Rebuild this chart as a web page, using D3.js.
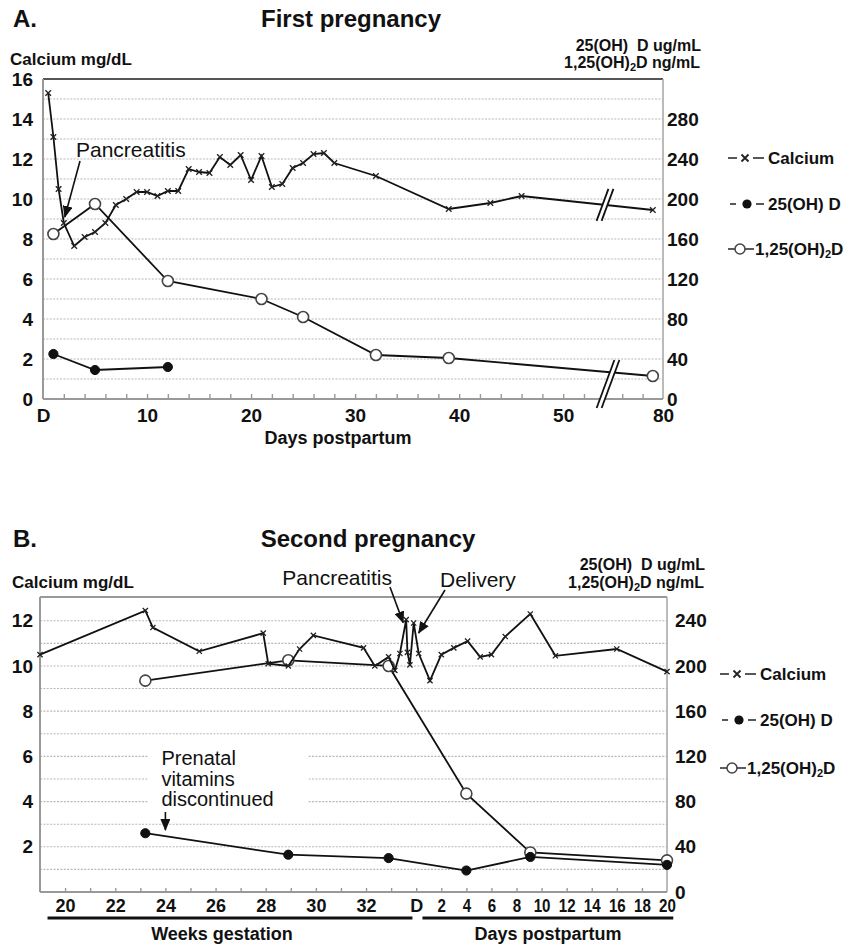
<!DOCTYPE html>
<html>
<head>
<meta charset="utf-8">
<script src="https://cdn.jsdelivr.net/npm/d3@7"></script>
<style>
  body { margin: 0; background: #fff; }
  svg text { font-family: "Liberation Sans", Arial, Helvetica, sans-serif; fill: #111; }
  .b { font-weight: bold; }
  .pre { white-space: pre; }
</style>
</head>
<body>
<svg id="chart" width="860" height="950"></svg>
<script>
// ---------- A. first pregnancy (x = days postpartum) ----------
var caDaysA = [0.5, 1, 1.5, 2, 3, 4, 5, 6, 7, 8, 9, 10, 11, 12, 13, 14, 15, 16, 17, 18, 19, 20, 21, 22, 23, 24, 25, 26, 27, 28, 32, 39, 43, 46, 79];
var caValsA = [15.3, 13.1, 10.5, 8.8, 7.65, 8.1, 8.35, 8.8, 9.7, 10.0, 10.35, 10.35, 10.15, 10.4, 10.4, 11.5, 11.35, 11.3, 12.1, 11.7, 12.2, 10.95, 12.15, 10.6, 10.75, 11.55, 11.8, 12.25, 12.3, 11.8, 11.15, 9.5, 9.8, 10.15, 9.45];
var d125DaysA = [1, 5, 12, 21, 25, 32, 39, 79];
var d125ValsA = [165, 195, 118, 100, 82, 44, 41, 23];
var d25DaysA = [1, 5, 12];
var d25ValsA = [45, 29, 32];
var xTicksA = [0, 10, 20, 30, 40, 50, 80];
var xLabelsA = ["D", "10", "20", "30", "40", "50", "80"];
var minorTicksA = d3.range(2, 53, 2).concat([76, 78]);
var leftTicksA = [0, 2, 4, 6, 8, 10, 12, 14, 16];
var rightTicksA = [0, 40, 80, 120, 160, 200, 240, 280];

// ---------- B. second pregnancy (weeks gestation, then days postpartum) ----------
var caWeeksB = [19, 23.2, 23.5, 25.35, 27.9, 28.1, 28.9, 29.35, 29.9, 31.9, 32.35, 32.9, 33.15, 33.35, 33.6, 33.65, 33.75, 33.9, 34.1];
var caGestB = [10.5, 12.45, 11.7, 10.65, 11.45, 10.1, 10.0, 10.75, 11.35, 10.8, 10.0, 10.4, 9.8, 10.55, 12.05, 10.6, 10.05, 11.9, 10.55];
var caDaysB = [1.1, 2, 3, 4.1, 5.1, 6, 7.1, 9.1, 11.1, 16, 20];
var caPostB = [9.35, 10.5, 10.8, 11.1, 10.4, 10.5, 11.3, 12.3, 10.45, 10.75, 9.75];
var d125WeeksB = [23.2, 28.9, 32.9];
var d125GestB = [187, 205, 200];
var d125DaysB = [4, 9.1, 20];
var d125PostB = [87, 35, 28];
var d25WeeksB = [23.2, 28.9, 32.9];
var d25GestB = [52, 33, 30];
var d25DaysB = [4, 9.1, 20];
var d25PostB = [19, 31, 24];
var weekLabelsB = [20, 22, 24, 26, 28, 30, 32];
var dayLabelsB = [2, 4, 6, 8, 10, 12, 14, 16, 18, 20];
var leftTicksB = [2, 4, 6, 8, 10, 12];
var rightTicksB = [0, 40, 80, 120, 160, 200, 240];

var svg = d3.select("#chart");
var defs = svg.append("defs");
defs.append("marker").attr("id", "arrow")
  .attr("viewBox", "0 0 12 10").attr("refX", 11).attr("refY", 5)
  .attr("markerWidth", 12).attr("markerHeight", 10)
  .attr("markerUnits", "userSpaceOnUse").attr("orient", "auto")
  .append("path").attr("d", "M0,0 L12,5 L0,10 z").attr("fill", "#111");

var zip = function(xs, ys) { return xs.map(function(x, i) { return [x, ys[i]]; }); };

function drawX(g, pts, xs, ys, s) {
  g.append("g").selectAll("path").data(pts).enter().append("path")
    .attr("d", function(d) { var x = xs(d[0]), y = ys(d[1]);
      return "M" + (x - s) + "," + (y - s) + "L" + (x + s) + "," + (y + s) + "M" + (x - s) + "," + (y + s) + "L" + (x + s) + "," + (y - s); })
    .attr("stroke", "#222").attr("stroke-width", 1.3);
}
function drawDots(g, pts, xs, ys, open) {
  g.append("g").selectAll("circle").data(pts).enter().append("circle")
    .attr("cx", function(d) { return xs(d[0]); })
    .attr("cy", function(d) { return ys(d[1]); })
    .attr("r", open ? 5.5 : 4.6)
    .attr("fill", open ? "#fff" : "#111")
    .attr("stroke", open ? "#444" : "#111").attr("stroke-width", open ? 1.6 : 1);
}
function drawLine(g, pts, xs, ys) {
  g.append("path").datum(pts)
    .attr("d", d3.line().x(function(d) { return xs(d[0]); }).y(function(d) { return ys(d[1]); }))
    .attr("fill", "none").attr("stroke", "#111").attr("stroke-width", 1.8);
}
function grid(g, vals, ys, x0, x1) {
  g.append("g").selectAll("line").data(vals).enter().append("line")
    .attr("x1", x0).attr("x2", x1)
    .attr("y1", function(d) { return ys(d); }).attr("y2", function(d) { return ys(d); })
    .attr("stroke", "#b8b8b8").attr("stroke-width", 1.1).attr("stroke-dasharray", "2,1.4");
}
function frame(g, x0, x1, y0, y1, topColor) {
  g.append("line").attr("x1", x0).attr("x2", x1).attr("y1", y1).attr("y2", y1).attr("stroke", topColor).attr("stroke-width", 2);
  g.append("line").attr("x1", x1).attr("x2", x1).attr("y1", y1).attr("y2", y0).attr("stroke", "#aaa").attr("stroke-width", 1.6);
  g.append("line").attr("x1", x0).attr("x2", x0).attr("y1", y1).attr("y2", y0).attr("stroke", "#999").attr("stroke-width", 2);
  g.append("line").attr("x1", x0).attr("x2", x1).attr("y1", y0).attr("y2", y0).attr("stroke", "#999").attr("stroke-width", 2);
}
function styleAxis(ax, size, cls) {
  ax.select(".domain").remove();
  ax.selectAll("text").attr("class", cls || "b").style("font-size", size + "px").attr("fill", "#111");
}
function subLabel(t, pre, post) {
  t.append("tspan").text(pre);
  t.append("tspan").attr("dy", 3).style("font-size", "11px").text("2");
  t.append("tspan").attr("dy", -3).text(post);
}
function legend(g, x0, yc) {
  var tx = x0 + 40;
  // calcium
  g.append("path").attr("d", "M" + x0 + "," + yc[0] + "h9M" + (x0 + 25) + "," + yc[0] + "h11")
    .attr("stroke", "#222").attr("stroke-width", 1.6);
  g.append("path").attr("d", "M" + (x0 + 13.5) + "," + (yc[0] - 3.5) + "l7,7M" + (x0 + 13.5) + "," + (yc[0] + 3.5) + "l7,-7")
    .attr("stroke", "#222").attr("stroke-width", 1.8);
  g.append("text").attr("class", "b").attr("x", tx).attr("y", yc[0] + 6).style("font-size", "17px").text("Calcium");
  // 25(OH) D
  g.append("path").attr("d", "M" + (x0 + 2) + "," + yc[1] + "h6M" + (x0 + 28) + "," + yc[1] + "h8")
    .attr("stroke", "#222").attr("stroke-width", 1.6);
  g.append("circle").attr("cx", x0 + 19).attr("cy", yc[1]).attr("r", 4.6).attr("fill", "#111");
  g.append("text").attr("class", "b").attr("x", tx).attr("y", yc[1] + 6).style("font-size", "17px").text("25(OH) D");
  // 1,25(OH)2D
  g.append("path").attr("d", "M" + x0 + "," + yc[2] + "h26").attr("stroke", "#333").attr("stroke-width", 1.6);
  g.append("circle").attr("cx", x0 + 12).attr("cy", yc[2]).attr("r", 5).attr("fill", "#fff").attr("stroke", "#444").attr("stroke-width", 1.5);
  subLabel(g.append("text").attr("class", "b").attr("x", x0 + 27).attr("y", yc[2] + 6).style("font-size", "17px"), "1,25(OH)", "D");
}
function arrow(g, x1, y1, x2, y2) {
  g.append("line").attr("x1", x1).attr("y1", y1).attr("x2", x2).attr("y2", y2)
    .attr("stroke", "#111").attr("stroke-width", 1.6).attr("marker-end", "url(#arrow)");
}
function brk(g, cx, cy, h) {
  var s = 0.37 * h / 2, gp = 5;
  g.append("polygon").attr("points", [[cx - gp / 2 - s, cy + h / 2], [cx - gp / 2 + s, cy - h / 2], [cx + gp / 2 + s, cy - h / 2], [cx + gp / 2 - s, cy + h / 2]].join(" "))
    .attr("fill", "#fff");
  [-gp / 2, gp / 2].forEach(function(o) {
    g.append("line").attr("x1", cx + o - s).attr("y1", cy + h / 2).attr("x2", cx + o + s).attr("y2", cy - h / 2)
      .attr("stroke", "#111").attr("stroke-width", 1.8);
  });
}
function yAtX(pts, xs, ys, px) {
  for (var i = 1; i < pts.length; i++) {
    var xa = xs(pts[i - 1][0]), xb = xs(pts[i][0]);
    if (px >= xa && px <= xb) return ys(pts[i - 1][1]) + (px - xa) / (xb - xa) * (ys(pts[i][1]) - ys(pts[i - 1][1]));
  }
  return ys(pts[pts.length - 1][1]);
}

// ================= Panel A =================
var gA = svg.append("g");
var xA = d3.scaleLinear().domain([0, 54.5, 74.8, 80]).range([43, 610, 610, 663]);
var yA = d3.scaleLinear().domain([0, 16]).range([399, 79]);
var yA2 = d3.scaleLinear().domain([0, 320]).range([399, 79]);

gA.append("text").attr("class", "b").attr("x", 13).attr("y", 27).style("font-size", "24px").text("A.");
gA.append("text").attr("class", "b").attr("x", 351).attr("y", 27).attr("text-anchor", "middle").style("font-size", "24px").text("First pregnancy");
gA.append("text").attr("class", "b").attr("x", 10).attr("y", 65).style("font-size", "17px").text("Calcium mg/dL");
gA.append("text").attr("class", "b pre").attr("x", 701).attr("y", 51).attr("text-anchor", "end").style("font-size", "16px").text("25(OH)  D ug/mL");
subLabel(gA.append("text").attr("class", "b pre").attr("x", 700).attr("y", 68).attr("text-anchor", "end").style("font-size", "16px"), "1,25(OH)", "D ng/mL");

grid(gA, d3.range(1, 16), yA, 43, 663);
gA.append("g").attr("transform", "translate(0,399)")
  .call(d3.axisBottom(xA).tickValues(minorTicksA).tickSize(-5).tickFormat(""))
  .call(function(a) { a.select(".domain").remove(); a.selectAll("line").attr("stroke", "#999").attr("stroke-width", 1.4); });
frame(gA, 43, 663, 399, 79, "#555");

gA.append("g").attr("transform", "translate(43,0)")
  .call(d3.axisLeft(yA).tickValues(leftTicksA).tickSize(0).tickPadding(10)).call(function(a) { styleAxis(a, 19); });
gA.append("g").attr("transform", "translate(663,0)")
  .call(d3.axisRight(yA2).tickValues(rightTicksA).tickSize(0).tickPadding(4)).call(function(a) { styleAxis(a, 19); });
gA.append("g").attr("transform", "translate(0,399)")
  .call(d3.axisBottom(xA).tickValues(xTicksA).tickSize(0).tickPadding(10).tickFormat(function(d, i) { return xLabelsA[i]; }))
  .call(function(a) { styleAxis(a, 19); });
gA.append("text").attr("class", "b").attr("x", 338).attr("y", 444).attr("text-anchor", "middle").style("font-size", "18px").text("Days postpartum");

var caA = zip(caDaysA, caValsA), d125A = zip(d125DaysA, d125ValsA), d25A = zip(d25DaysA, d25ValsA);
drawLine(gA, d125A, xA, yA2);
drawLine(gA, d25A, xA, yA2);
drawLine(gA, caA, xA, yA);
drawX(gA, caA, xA, yA, 2.8);
drawDots(gA, d125A, xA, yA2, true);
drawDots(gA, d25A, xA, yA2, false);
brk(gA, 605, yAtX(caA, xA, yA, 605), 32);
brk(gA, 608, yAtX(d125A, xA, yA2, 608) + 12, 48);

gA.append("text").attr("x", 76).attr("y", 157).style("font-size", "21px").text("Pancreatitis");
arrow(gA, 80, 161, xA(2) + 1, yA(8.8) - 6);
legend(gA, 728, [158, 204, 249]);

// ================= Panel B =================
var gB = svg.append("g");
var xB = d3.scaleLinear().domain([19, 44]).range([40, 667]);
var pp = function(d) { return 34 + d / 2; };   // day postpartum -> axis position
var yB = d3.scaleLinear().domain([0, 13.05]).range([892, 597]);
var yB2 = d3.scaleLinear().domain([0, 261]).range([892, 597]);

gB.append("text").attr("class", "b").attr("x", 13).attr("y", 547).style("font-size", "24px").text("B.");
gB.append("text").attr("class", "b").attr("x", 368).attr("y", 547).attr("text-anchor", "middle").style("font-size", "24px").text("Second pregnancy");
gB.append("text").attr("class", "b").attr("x", 12).attr("y", 588).style("font-size", "17px").text("Calcium mg/dL");
gB.append("text").attr("class", "b pre").attr("x", 705).attr("y", 570).attr("text-anchor", "end").style("font-size", "16px").text("25(OH)  D ug/mL");
subLabel(gB.append("text").attr("class", "b pre").attr("x", 704).attr("y", 588).attr("text-anchor", "end").style("font-size", "16px"), "1,25(OH)", "D ng/mL");

grid(gB, d3.range(1, 13), yB, 40, 667);
// white box behind the prenatal vitamins note
gB.append("rect").attr("x", xB(23.3)).attr("y", yB(6.35)).attr("width", xB(29.7) - xB(23.3)).attr("height", yB(3.6) - yB(6.35)).attr("fill", "#fff");
gB.append("g").attr("transform", "translate(0,892)")
  .call(d3.axisBottom(xB).tickValues(d3.range(20, 44)).tickSize(-4).tickFormat(""))
  .call(function(a) { a.select(".domain").remove(); a.selectAll("line").attr("stroke", "#999").attr("stroke-width", 1.4); });
frame(gB, 40, 667, 892, 597, "#999");

gB.append("g").attr("transform", "translate(40,0)")
  .call(d3.axisLeft(yB).tickValues(leftTicksB).tickSize(0).tickPadding(7)).call(function(a) { styleAxis(a, 19); });
gB.append("g").attr("transform", "translate(667,0)")
  .call(d3.axisRight(yB2).tickValues(rightTicksB).tickSize(0).tickPadding(8)).call(function(a) { styleAxis(a, 19); });
var posB = weekLabelsB.concat([34], dayLabelsB.map(pp));
var labB = weekLabelsB.map(String).concat(["D"], dayLabelsB.map(String));
gB.append("g").attr("transform", "translate(0,892)")
  .call(d3.axisBottom(xB).tickValues(posB).tickSize(0).tickPadding(7).tickFormat(function(d, i) { return labB[i]; }))
  .call(function(a) {
    styleAxis(a, 18);
    a.selectAll("text").filter(function(d) { return d > 34; }).attr("transform", "scale(0.84,1)");
  });
gB.append("line").attr("x1", xB(19.3)).attr("x2", xB(33.85)).attr("y1", 918).attr("y2", 918).attr("stroke", "#111").attr("stroke-width", 3);
gB.append("line").attr("x1", xB(pp(0.5))).attr("x2", xB(pp(20.5))).attr("y1", 918).attr("y2", 918).attr("stroke", "#111").attr("stroke-width", 3);
gB.append("text").attr("class", "b").attr("x", 222).attr("y", 940).attr("text-anchor", "middle").style("font-size", "18px").text("Weeks gestation");
gB.append("text").attr("class", "b").attr("x", 548).attr("y", 940).attr("text-anchor", "middle").style("font-size", "18px").text("Days postpartum");

var caB = zip(caWeeksB, caGestB).concat(zip(caDaysB.map(pp), caPostB));
var d125B = zip(d125WeeksB, d125GestB).concat(zip(d125DaysB.map(pp), d125PostB));
var d25B = zip(d25WeeksB, d25GestB).concat(zip(d25DaysB.map(pp), d25PostB));
drawLine(gB, d125B, xB, yB2);
drawLine(gB, d25B, xB, yB2);
drawDots(gB, d125B, xB, yB2, true);
drawLine(gB, caB, xB, yB);
drawX(gB, caB, xB, yB, 2.6);
drawDots(gB, d25B, xB, yB2, false);

gB.append("text").attr("x", 392).attr("y", 585).attr("text-anchor", "end").style("font-size", "21px").text("Pancreatitis");
arrow(gB, 390, 587, xB(33.6) - 3, yB(12.05) + 3);
gB.append("text").attr("x", 440).attr("y", 587).style("font-size", "21px").text("Delivery");
arrow(gB, 445, 590, xB(33.9) + 5, yB(11.9) + 10);
var note = gB.append("text").style("font-size", "20px");
["Prenatal", "vitamins", "discontinued"].forEach(function(s, i) {
  note.append("tspan").attr("x", xB(24) - 4).attr("y", 765 + i * 20.5).text(s);
});
arrow(gB, xB(24), 812, xB(24), 830);
legend(gB, 720, [674, 720, 768]);
</script>
</body>
</html>
